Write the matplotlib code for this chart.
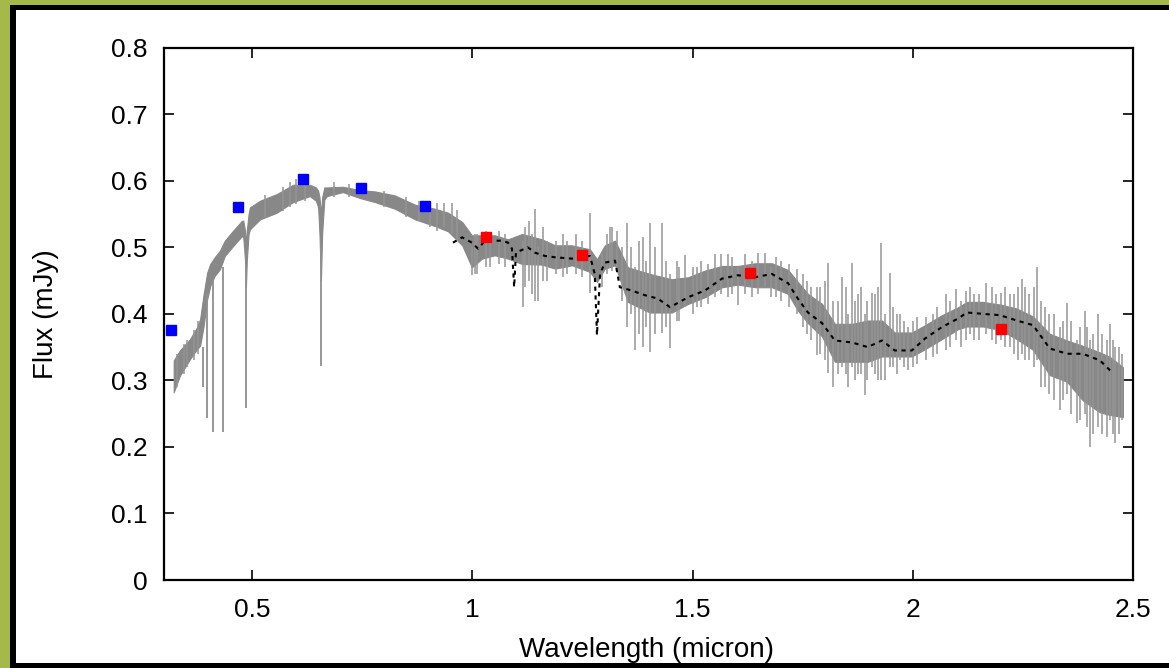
import matplotlib
matplotlib.use("Agg")
import matplotlib.pyplot as plt
from matplotlib.patches import Rectangle

plt.rcParams['font.family'] = ['Liberation Sans', 'DejaVu Sans']

# ---------------- data ----------------
# observed spectrum: band envelope (wavelength, upper, lower)
spec_w = [0.322, 0.336, 0.359, 0.375, 0.382, 0.390, 0.398, 0.405, 0.415, 0.427,
          0.438, 0.457, 0.477, 0.480, 0.484, 0.486, 0.488, 0.492, 0.495, 0.518,
          0.556, 0.593, 0.631, 0.645, 0.650, 0.653, 0.6563, 0.659, 0.664, 0.670,
          0.706, 0.745, 0.779, 0.824, 0.870, 0.915, 0.945, 0.977, 0.999, 1.022,
          1.051, 1.081, 1.113, 1.158, 1.188, 1.226, 1.267, 1.283, 1.301, 1.324,
          1.353, 1.403, 1.453, 1.490, 1.528, 1.567, 1.603, 1.642, 1.680, 1.717,
          1.739, 1.762, 1.794, 1.823, 1.862, 1.898, 1.930, 1.959, 1.998, 2.028,
          2.066, 2.103, 2.123, 2.159, 2.198, 2.236, 2.273, 2.311, 2.350, 2.386,
          2.425, 2.448, 2.477]
spec_hi = [0.330, 0.345, 0.362, 0.380, 0.392, 0.430, 0.462, 0.475, 0.485, 0.495,
           0.510, 0.525, 0.540, 0.540, 0.525, 0.500, 0.525, 0.550, 0.560, 0.570,
           0.580, 0.594, 0.594, 0.590, 0.585, 0.575, 0.550, 0.575, 0.590, 0.590,
           0.591, 0.586, 0.584, 0.578, 0.564, 0.558, 0.552, 0.538, 0.518, 0.518,
           0.518, 0.512, 0.520, 0.512, 0.503, 0.503, 0.497, 0.482, 0.503, 0.510,
           0.470, 0.460, 0.452, 0.455, 0.465, 0.472, 0.472, 0.476, 0.476, 0.466,
           0.448, 0.430, 0.415, 0.385, 0.385, 0.390, 0.390, 0.372, 0.372, 0.383,
           0.398, 0.410, 0.418, 0.418, 0.414, 0.408, 0.396, 0.370, 0.360, 0.352,
           0.342, 0.335, 0.320]
spec_lo = [0.282, 0.307, 0.332, 0.347, 0.352, 0.382, 0.422, 0.442, 0.457, 0.467,
           0.487, 0.502, 0.517, 0.515, 0.480, 0.440, 0.480, 0.520, 0.527, 0.542,
           0.552, 0.568, 0.577, 0.570, 0.560, 0.520, 0.450, 0.520, 0.572, 0.577,
           0.583, 0.574, 0.568, 0.558, 0.542, 0.532, 0.524, 0.503, 0.470, 0.483,
           0.488, 0.483, 0.475, 0.474, 0.468, 0.473, 0.463, 0.448, 0.468, 0.473,
           0.418, 0.402, 0.402, 0.415, 0.425, 0.440, 0.444, 0.440, 0.440, 0.430,
           0.405, 0.386, 0.366, 0.328, 0.328, 0.328, 0.336, 0.336, 0.336, 0.347,
           0.362, 0.377, 0.381, 0.381, 0.376, 0.362, 0.346, 0.308, 0.298, 0.270,
           0.252, 0.248, 0.245]

# strong absorption lines (wavelength, bottom, top)
line_w = [0.3889, 0.3970, 0.4102, 0.4340, 0.4861, 0.6563]
line_lo = [0.290, 0.243, 0.222, 0.222, 0.258, 0.321]
line_hi = [0.350, 0.430, 0.450, 0.470, 0.470, 0.500]

# large noise spikes (wavelength, low, high)
spike_w = [0.935, 0.955, 0.965, 0.999, 1.005, 1.115, 1.120, 1.128, 1.135, 1.142,
           1.148, 1.160, 1.170, 1.267, 1.312, 1.328, 1.351, 1.360, 1.369, 1.378,
           1.387, 1.395, 1.403, 1.415, 1.430, 1.440, 1.449, 1.465, 1.483, 1.510,
           1.550, 1.603, 1.648, 1.665, 1.677, 1.737, 1.760, 1.782, 1.807, 1.819,
           1.840, 1.853, 1.862, 1.875, 1.891, 1.907, 1.928, 1.937, 1.948, 1.970,
           1.990, 2.030, 2.076, 2.098, 2.110, 2.140, 2.166, 2.200, 2.220, 2.248,
           2.265, 2.282, 2.290, 2.334, 2.350, 2.373, 2.391, 2.402, 2.420, 2.440,
           2.448, 2.460, 2.475]
spike_lo = [0.530, 0.520, 0.510, 0.458, 0.460, 0.410, 0.440, 0.450, 0.430, 0.420,
            0.420, 0.450, 0.450, 0.432, 0.470, 0.470, 0.380, 0.400, 0.345, 0.370,
            0.350, 0.380, 0.342, 0.370, 0.371, 0.380, 0.348, 0.390, 0.410, 0.410,
            0.425, 0.413, 0.430, 0.440, 0.425, 0.400, 0.370, 0.338, 0.311, 0.290,
            0.320, 0.290, 0.320, 0.310, 0.278, 0.320, 0.300, 0.300, 0.320, 0.330,
            0.315, 0.330, 0.345, 0.360, 0.350, 0.360, 0.370, 0.360, 0.350, 0.340,
            0.330, 0.330, 0.290, 0.255, 0.280, 0.236, 0.250, 0.200, 0.230, 0.215,
            0.240, 0.206, 0.240]
spike_hi = [0.566, 0.566, 0.556, 0.500, 0.520, 0.510, 0.530, 0.540, 0.520, 0.558,
            0.500, 0.530, 0.510, 0.551, 0.530, 0.525, 0.537, 0.500, 0.470, 0.510,
            0.515, 0.480, 0.537, 0.500, 0.537, 0.480, 0.460, 0.480, 0.488, 0.470,
            0.490, 0.470, 0.491, 0.491, 0.470, 0.468, 0.450, 0.440, 0.477, 0.420,
            0.455, 0.400, 0.477, 0.430, 0.400, 0.432, 0.506, 0.400, 0.461, 0.400,
            0.380, 0.395, 0.430, 0.438, 0.420, 0.430, 0.446, 0.432, 0.430, 0.453,
            0.430, 0.470, 0.420, 0.380, 0.416, 0.360, 0.405, 0.360, 0.400, 0.360,
            0.385, 0.350, 0.340]

# small noise spikes giving the jagged texture (wavelength, low, high)
fine_w = [0.330, 0.345, 0.352, 0.368, 0.378, 0.530, 0.570, 0.585, 0.600, 0.620,
          0.685, 0.720, 0.800, 0.850, 0.880, 0.905, 0.920, 1.010, 1.030, 1.040,
          1.060, 1.075, 1.190, 1.205, 1.215, 1.235, 1.250, 1.295, 1.305, 1.318,
          1.340, 1.470, 1.500, 1.520, 1.535, 1.565, 1.580, 1.590, 1.620, 1.635,
          1.690, 1.700, 1.720, 1.750, 1.770, 1.790, 1.800, 1.830, 1.848, 1.868,
          1.883, 1.897, 1.915, 1.920, 1.955, 1.965, 1.980, 2.000, 2.010, 2.045,
          2.055, 2.085, 2.120, 2.130, 2.150, 2.180, 2.190, 2.210, 2.230, 2.240,
          2.255, 2.275, 2.300, 2.310, 2.320, 2.340, 2.360, 2.380, 2.395, 2.410,
          2.430, 2.455, 2.468]
fine_lo = [0.290, 0.310, 0.320, 0.330, 0.340, 0.545, 0.555, 0.560, 0.565, 0.570,
           0.575, 0.575, 0.560, 0.545, 0.540, 0.530, 0.525, 0.460, 0.470, 0.470,
           0.475, 0.470, 0.460, 0.455, 0.460, 0.460, 0.455, 0.440, 0.460, 0.465,
           0.420, 0.390, 0.400, 0.410, 0.415, 0.430, 0.425, 0.430, 0.430, 0.425,
           0.425, 0.420, 0.410, 0.380, 0.360, 0.340, 0.330, 0.310, 0.310, 0.300,
           0.310, 0.300, 0.310, 0.300, 0.320, 0.310, 0.320, 0.320, 0.325, 0.335,
           0.340, 0.350, 0.360, 0.370, 0.360, 0.360, 0.355, 0.350, 0.340, 0.330,
           0.330, 0.320, 0.290, 0.280, 0.270, 0.270, 0.250, 0.240, 0.230, 0.220,
           0.220, 0.220, 0.220]
fine_hi = [0.340, 0.355, 0.360, 0.375, 0.390, 0.578, 0.590, 0.598, 0.603, 0.600,
           0.598, 0.595, 0.585, 0.575, 0.570, 0.570, 0.566, 0.520, 0.525, 0.520,
           0.525, 0.520, 0.510, 0.520, 0.510, 0.520, 0.510, 0.490, 0.520, 0.530,
           0.500, 0.470, 0.470, 0.480, 0.475, 0.490, 0.490, 0.485, 0.490, 0.480,
           0.485, 0.480, 0.475, 0.460, 0.440, 0.440, 0.450, 0.420, 0.440, 0.420,
           0.440, 0.420, 0.430, 0.440, 0.410, 0.400, 0.390, 0.390, 0.395, 0.400,
           0.410, 0.420, 0.435, 0.440, 0.430, 0.440, 0.430, 0.440, 0.430, 0.440,
           0.440, 0.440, 0.410, 0.400, 0.400, 0.390, 0.390, 0.380, 0.380, 0.370,
           0.370, 0.360, 0.350]

# model spectrum (black dotted)
model_w = [0.956, 0.977, 0.999, 1.013, 1.029, 1.067, 1.081, 1.090, 1.095, 1.099,
           1.126, 1.142, 1.165, 1.188, 1.226, 1.267, 1.278, 1.283, 1.290, 1.301,
           1.324, 1.335, 1.362, 1.392, 1.421, 1.449, 1.490, 1.528, 1.567, 1.603,
           1.642, 1.680, 1.717, 1.739, 1.762, 1.794, 1.823, 1.862, 1.898, 1.930,
           1.959, 1.998, 2.028, 2.066, 2.103, 2.123, 2.159, 2.198, 2.236, 2.273,
           2.311, 2.350, 2.386, 2.425, 2.448]
model_f = [0.507, 0.515, 0.507, 0.498, 0.510, 0.510, 0.507, 0.498, 0.440, 0.492,
           0.500, 0.492, 0.487, 0.485, 0.483, 0.487, 0.460, 0.368, 0.460, 0.477,
           0.480, 0.440, 0.435, 0.428, 0.423, 0.410, 0.425, 0.435, 0.453, 0.458,
           0.455, 0.460, 0.446, 0.423, 0.402, 0.386, 0.360, 0.357, 0.350, 0.360,
           0.345, 0.345, 0.363, 0.380, 0.393, 0.402, 0.400, 0.398, 0.390, 0.383,
           0.348, 0.340, 0.340, 0.330, 0.315]

# photometry
opt_w = [0.315, 0.468, 0.616, 0.747, 0.893]
opt_f = [0.375, 0.560, 0.602, 0.589, 0.562]
nir_w = [1.031, 1.249, 1.630, 2.200]
nir_f = [0.515, 0.489, 0.462, 0.377]

xticks = [0.5, 1.0, 1.5, 2.0, 2.5]
xtick_labels = ["0.5", "1", "1.5", "2", "2.5"]
yticks = [0.0, 0.1, 0.2, 0.3, 0.4, 0.5, 0.6, 0.7, 0.8]
ytick_labels = ["0", "0.1", "0.2", "0.3", "0.4", "0.5", "0.6", "0.7", "0.8"]

# ---------------- figure ----------------
W, H = 1169, 668
fig = plt.figure(figsize=(W / 100, H / 100), dpi=100)
fig.patch.set_facecolor('#a5b94b')

def px_rect(x0, y0, x1, y1, color, z):
    # pixel coords measured from the top-left corner
    fig.patches.append(Rectangle((x0 / W, 1 - y1 / H), (x1 - x0) / W, (y1 - y0) / H,
                                 transform=fig.transFigure, facecolor=color,
                                 edgecolor='none', zorder=z))

px_rect(10, 5, W + 5, H + 5, 'black', -3)
px_rect(16, 10, W + 5, 663, 'white', -2)
px_rect(10, 663, W + 5, H + 5, 'black', 10)

ax = fig.add_axes([164 / W, 1 - 580 / H, (1133 - 164) / W, (580 - 47.7) / H])
ax.set_facecolor('white')

grey = '#888888'
ax.fill_between(spec_w, spec_lo, spec_hi, color=grey, linewidth=0.8,
                edgecolor=grey, zorder=2)
ax.vlines(spike_w, spike_lo, spike_hi, color='#959595', linewidth=1.1, zorder=2)
ax.vlines(fine_w, fine_lo, fine_hi, color='#959595', linewidth=1.1, zorder=2)
ax.vlines(line_w, line_lo, line_hi, color='#8f8f8f', linewidth=1.3, zorder=2)
ax.plot(model_w, model_f, color='black', linestyle=(0, (2, 2.2)), linewidth=1.5, zorder=3)
ax.plot(opt_w, opt_f, linestyle='none', marker='s', markersize=7.8,
        color='#0000ff', zorder=4)
ax.plot(nir_w, nir_f, linestyle='none', marker='s', markersize=7.8,
        color='#ff0000', zorder=4)

ax.set_xlim(0.3, 2.5)
ax.set_ylim(0.0, 0.8)
ax.set_xticks(xticks)
ax.set_xticklabels(xtick_labels)
ax.set_yticks(yticks)
ax.set_yticklabels(ytick_labels)
ax.tick_params(direction='in', length=7, width=1.2, top=True, right=True,
               labelsize=19, colors='black')
ax.tick_params(axis='x', pad=13)
ax.tick_params(axis='y', pad=12)
for s in ax.spines.values():
    s.set_linewidth(1.6)

ax.set_xlabel('Wavelength (micron)', fontsize=20)
ax.set_ylabel('Flux (mJy)', fontsize=20)
ax.xaxis.set_label_coords(0.498, -0.107)
ax.yaxis.set_label_coords(-0.108, 0.5)

fig.savefig('out.png', dpi=100, facecolor=fig.get_facecolor())
